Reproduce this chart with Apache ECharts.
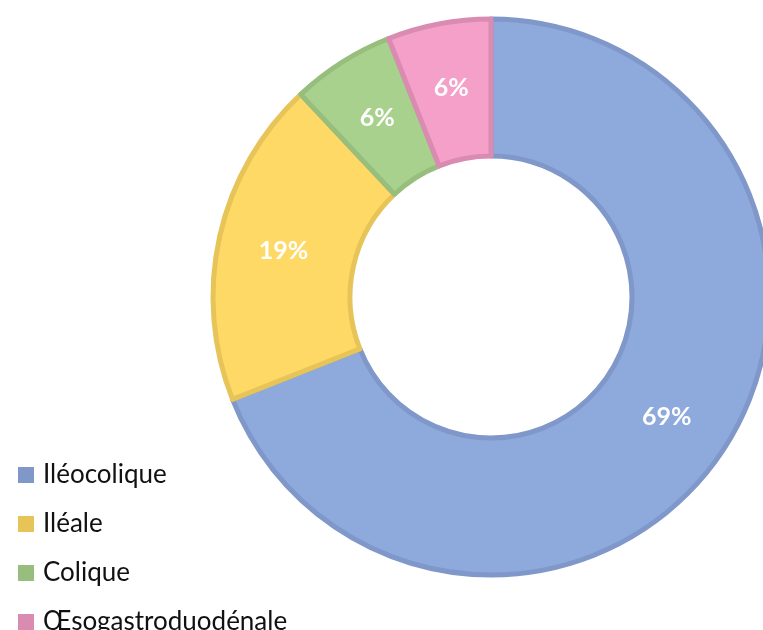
<!DOCTYPE html>
<html>
<head>
<meta charset="utf-8">
<script src="https://cdn.jsdelivr.net/npm/echarts@6/dist/echarts.min.js"></script>
<style>
  html, body { margin: 0; padding: 0; background: #fff; }
  #chart { width: 763px; height: 630px; }
</style>
</head>
<body>
<div id="chart"></div>
<script>
// Location of lesions (share of cases, %)
const categories = ['Iléocolique', 'Iléale', 'Colique', 'Œsogastroduodénale'];
const values = [69, 19, 6, 6];
const fillColors = ['#8EA9DB', '#FFD966', '#A9D18E', '#F4A0C8'];
const edgeColors = ['#7F98C9', '#E6C458', '#97BE7D', '#DA8BB1'];

const chart = echarts.init(document.getElementById('chart'), null, { renderer: 'canvas' });

const data = categories.map((name, i) => ({
  name,
  value: values[i],
  itemStyle: { color: fillColors[i], borderColor: edgeColors[i], borderWidth: 5 }
}));

chart.setOption({
  animation: false,
  color: fillColors,
  legend: {
    orient: 'vertical',
    left: 13,
    top: 457,
    height: 300,
    itemWidth: 16,
    itemHeight: 16,
    itemGap: 23,
    icon: 'rect',
    textStyle: { fontFamily: 'Lato', fontSize: 26, color: '#111', padding: [0, 0, 0, 4] },
    data: categories.map((name, i) => ({ name, itemStyle: { color: edgeColors[i], borderWidth: 0 } }))
  },
  series: [{
    type: 'pie',
    center: [491, 297],
    radius: [141, 278],
    startAngle: 90,
    clockwise: true,
    avoidLabelOverlap: false,
    label: {
      show: true,
      position: 'inside',
      formatter: p => p.value + '%',
      color: '#fff',
      fontFamily: 'Lato',
      fontWeight: 'bold',
      fontSize: 25
    },
    labelLine: { show: false },
    emphasis: { disabled: true },
    data
  }]
});
</script>
</body>
</html>
